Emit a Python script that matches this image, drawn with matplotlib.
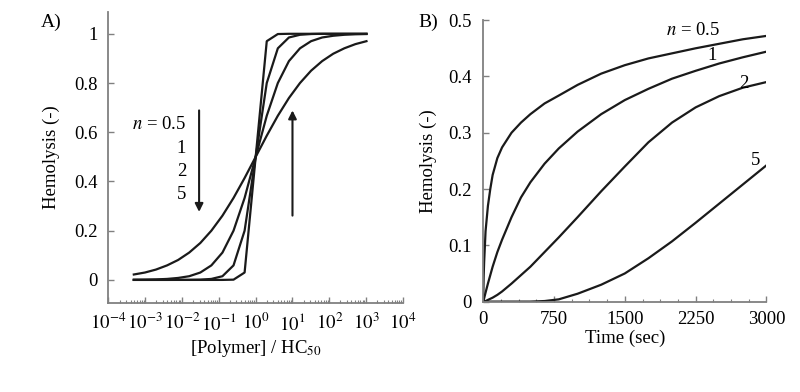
import matplotlib
matplotlib.use("Agg")
import matplotlib.pyplot as plt
from matplotlib.ticker import LogLocator, NullFormatter, FixedLocator

plt.rcParams['font.family'] = ['Liberation Serif', 'DejaVu Serif']
plt.rcParams['mathtext.fontset'] = 'stix'

# panel A: hemolysis vs concentration ratio
conc = [0.000488, 0.000977, 0.00195, 0.00391, 0.00781, 0.0156, 0.0313, 0.0625,
        0.125, 0.25, 0.5, 1, 2, 4, 8, 16, 32, 64, 128, 256, 512, 1024]
hemA_n05 = [0.022, 0.030, 0.042, 0.059, 0.081, 0.111, 0.150, 0.200, 0.261, 0.333, 0.414,
            0.500, 0.586, 0.667, 0.739, 0.800, 0.850, 0.889, 0.919, 0.941, 0.958, 0.970]
hemA_n1 = [0.0005, 0.001, 0.002, 0.004, 0.008, 0.015, 0.030, 0.059, 0.111, 0.200, 0.333,
           0.500, 0.667, 0.800, 0.889, 0.941, 0.970, 0.985, 0.992, 0.996, 0.998, 0.999]
hemA_n2 = [0, 0, 0, 0, 0.0001, 0.0002, 0.001, 0.004, 0.015, 0.059, 0.200,
           0.500, 0.800, 0.941, 0.985, 0.996, 0.999, 1, 1, 1, 1, 1]
hemA_n5 = [0, 0, 0, 0, 0, 0, 0, 0, 0, 0.001, 0.030,
           0.500, 0.970, 0.999, 1, 1, 1, 1, 1, 1, 1, 1]

# panel B: hemolysis vs time
time = [0, 5, 10, 25, 50, 75, 100, 150, 200, 300, 400, 500, 650, 800, 1000,
        1250, 1500, 1750, 2000, 2250, 2500, 2750, 3000]
hemB_n05 = [0, 0.045, 0.070, 0.125, 0.170, 0.200, 0.225, 0.255, 0.274, 0.300, 0.318, 0.333,
            0.352, 0.366, 0.385, 0.405, 0.420, 0.432, 0.441, 0.450, 0.458, 0.466, 0.472]
hemB_n1 = [0, 0.003, 0.006, 0.016, 0.032, 0.047, 0.062, 0.088, 0.110, 0.150, 0.185, 0.212,
           0.245, 0.272, 0.302, 0.333, 0.358, 0.378, 0.396, 0.410, 0.423, 0.434, 0.444]
hemB_n2 = [0, 0.0001, 0.0003, 0.001, 0.003, 0.005, 0.007, 0.012, 0.018, 0.032, 0.047, 0.062,
           0.088, 0.114, 0.150, 0.196, 0.240, 0.283, 0.318, 0.345, 0.365, 0.380, 0.390]
hemB_n5 = [0, 0, 0, 0, 0, 0, 0, 0, 0, 0, 0, 0,
           0.001, 0.004, 0.014, 0.030, 0.050, 0.077, 0.107, 0.140, 0.174, 0.208, 0.242]

xticksA = [1e-4, 1e-3, 1e-2, 1e-1, 1e0, 1e1, 1e2, 1e3, 1e4]
xlabelsA = ['$10^{-4}$', '$10^{-3}$', '$10^{-2}$', '$10^{-1}$', '$10^{0}$',
            '$10^{1}$', '$10^{2}$', '$10^{3}$', '$10^{4}$']
yticksA = [0, 0.2, 0.4, 0.6, 0.8, 1]
ylabelsA = ['0', '0.2', '0.4', '0.6', '0.8', '1']
xticksB = [0, 750, 1500, 2250, 3000]
yticksB = [0, 0.1, 0.2, 0.3, 0.4, 0.5]
ylabelsB = ['0', '0.1', '0.2', '0.3', '0.4', '0.5']

lc = '#1a1a1a'
sc = '#808080'
fs = 13.5

fig = plt.figure(figsize=(8, 3.92), dpi=100)
ax1 = fig.add_axes([0.1356, 0.2263, 0.368, 0.744])
ax2 = fig.add_axes([0.604, 0.2306, 0.354, 0.718])

for ax in (ax1, ax2):
    ax.spines['top'].set_visible(False)
    ax.spines['right'].set_visible(False)
    for s in ('left', 'bottom'):
        ax.spines[s].set_color(sc)
        ax.spines[s].set_linewidth(1.3)
    ax.tick_params(which='both', direction='in', color=sc, labelsize=fs)
    ax.tick_params(which='major', length=4, width=1)
    ax.tick_params(which='minor', length=2, width=0.8)

# ---- A ----
for y in (hemA_n05, hemA_n1, hemA_n2, hemA_n5):
    ax1.plot(conc, y, color=lc, lw=1.6)
ax1.set_xscale('log')
ax1.set_xlim(1e-4, 1e4)
ax1.set_ylim(-0.095, 1.09)
ax1.set_xticks(xticksA)
ax1.set_xticklabels(xlabelsA)
ax1.xaxis.set_minor_locator(LogLocator(base=10, subs=range(2, 10), numticks=20))
ax1.xaxis.set_minor_formatter(NullFormatter())
ax1.set_yticks(yticksA)
ax1.set_yticklabels(ylabelsA)
ax1.tick_params(axis='y', pad=8)
ax1.tick_params(axis='x', pad=7)
ax1.set_xlabel('[Polymer] / HC$_{50}$', fontsize=fs, labelpad=3)
ax1.set_ylabel('Hemolysis (-)', fontsize=fs, labelpad=10)

ax1.annotate('', xy=(0.029, 0.265), xytext=(0.029, 0.70),
             arrowprops=dict(arrowstyle='-|>', color=lc, lw=1.5, mutation_scale=12))
ax1.annotate('', xy=(10, 0.70), xytext=(10, 0.25),
             arrowprops=dict(arrowstyle='-|>', color=lc, lw=1.5, mutation_scale=12))
ax1.text(0.013, 0.63, '$n$ = 0.5', fontsize=fs, ha='right', va='center')
for lab, yy in (('1', 0.535), ('2', 0.44), ('5', 0.345)):
    ax1.text(0.013, yy, lab, fontsize=fs, ha='right', va='center')

# ---- B ----
for y in (hemB_n05, hemB_n1, hemB_n2, hemB_n5):
    ax2.plot(time, y, color=lc, lw=1.6)
ax2.set_xlim(0, 3000)
ax2.set_ylim(0, 0.5)
ax2.set_xticks(xticksB)
ax2.xaxis.set_minor_locator(FixedLocator([187.5 * i for i in range(17)]))
ax2.set_yticks(yticksB)
ax2.set_yticklabels(ylabelsB)
ax2.tick_params(axis='y', pad=8)
ax2.tick_params(axis='x', pad=7)
ax2.set_xlabel('Time (sec)', fontsize=fs, labelpad=1)
ax2.set_ylabel('Hemolysis (-)', fontsize=fs, labelpad=8)

ax2.text(2220, 0.482, '$n$ = 0.5', fontsize=fs, ha='center', va='center')
ax2.text(2420, 0.437, '1', fontsize=fs, ha='center', va='center')
ax2.text(2757, 0.388, '2', fontsize=fs, ha='center', va='center')
ax2.text(2880, 0.25, '5', fontsize=fs, ha='center', va='center')

fig.text(0.064, 0.943, 'A)', fontsize=fs + 0.5, ha='center', va='center')
fig.text(0.535, 0.943, 'B)', fontsize=fs + 0.5, ha='center', va='center')

fig.savefig('out.png', dpi=100)
